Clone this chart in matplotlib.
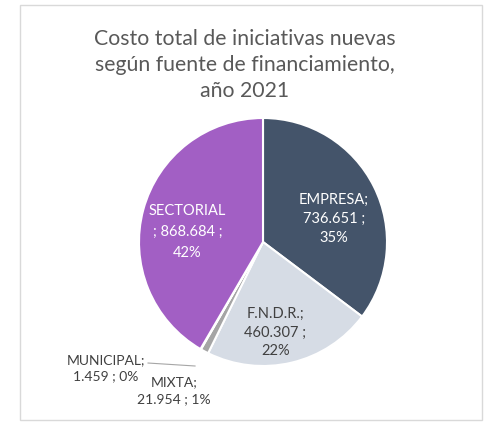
import matplotlib.pyplot as plt
from matplotlib.patches import Rectangle

fuentes = ["EMPRESA", "F.N.D.R.", "MIXTA", "MUNICIPAL", "SECTORIAL"]
costos = [736651, 460307, 21954, 1459, 868684]
etiquetas_valor = ["736.651", "460.307", "21.954", "1.459", "868.684"]
porcentajes = ["35%", "22%", "1%", "0%", "42%"]
colores = ["#44546A", "#D6DCE5", "#A5A5A5", "#FFC000", "#A25FC4"]

plt.rcParams["font.family"] = ["Lato", "DejaVu Sans"]

fig = plt.figure(figsize=(4.9, 4.24), dpi=100)
fig.patches.append(Rectangle((20 / 490, 4 / 424), 462 / 490, 415 / 424,
                             transform=fig.transFigure, fill=False,
                             edgecolor="#D9D9D9", linewidth=1))

fig.text(0.5, 1 - 65 / 424, "Costo total de iniciativas nuevas\nsegún fuente de financiamiento,\naño 2021",
         ha="center", va="center", fontsize=15.3, color="#595959", linespacing=1.38)

ax = fig.add_axes([139 / 490, 58 / 424, 248 / 490, 248 / 424])
ax.pie(costos, colors=colores, startangle=90, counterclock=False, radius=1,
       wedgeprops=dict(edgecolor="white", linewidth=1.5))
ax.set_xlim(-1, 1)
ax.set_ylim(-1, 1)
ax.set_aspect("equal")
ax.axis("off")

fs = 10.5
ls = 1.45
ax.text(0.573, 0.185, f"{fuentes[0]};\n{etiquetas_valor[0]} ;\n{porcentajes[0]}",
        ha="center", va="center", color="white", fontsize=fs, linespacing=ls)
ax.text(0.10, -0.73, f"{fuentes[1]};\n{etiquetas_valor[1]} ;\n{porcentajes[1]}",
        ha="center", va="center", color="#404040", fontsize=fs, linespacing=ls)
ax.text(-0.61, 0.08, f"{fuentes[4]}\n; {etiquetas_valor[4]} ;\n{porcentajes[4]}",
        ha="center", va="center", color="white", fontsize=fs, linespacing=1.6)
ax.text(-0.718, -1.20, f"{fuentes[2]};\n{etiquetas_valor[2]} ; {porcentajes[2]}",
        ha="center", va="center", color="#404040", fontsize=10, linespacing=ls,
        clip_on=False)
ax.text(-1.266, -1.016, f"{fuentes[3]};\n{etiquetas_valor[3]} ; {porcentajes[3]}",
        ha="center", va="center", color="#404040", fontsize=10, linespacing=ls,
        clip_on=False)
ax.plot([-0.927, -0.548], [-0.976, -1.0], color="#A6A6A6", linewidth=0.8, clip_on=False)

fig.savefig("out.png", dpi=100)
